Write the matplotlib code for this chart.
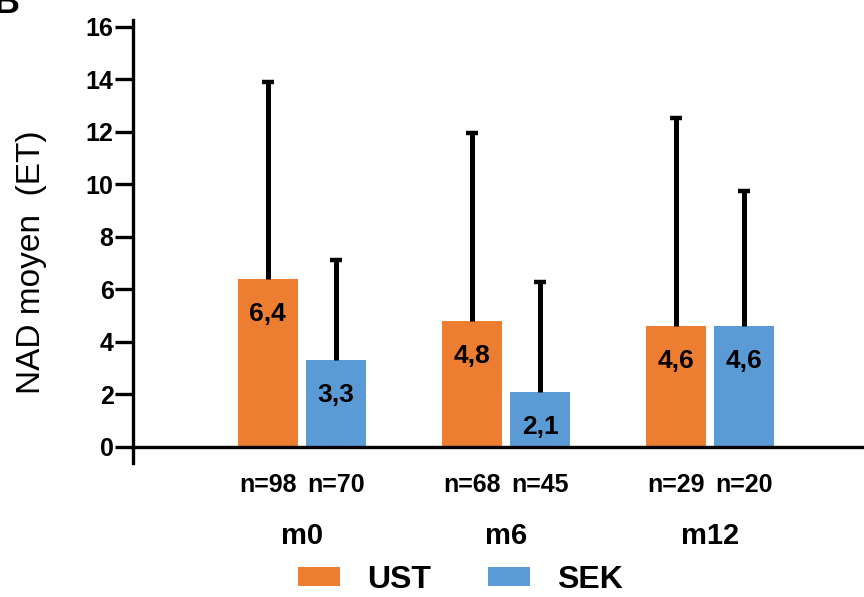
import matplotlib
matplotlib.use("Agg")
import matplotlib.pyplot as plt
import numpy as np
from matplotlib.patches import Patch

plt.rcParams['font.family'] = ['Liberation Sans', 'DejaVu Sans']

groups = ["m0", "m6", "m12"]
series = ["UST", "SEK"]
ust_mean = [6.4, 4.8, 4.6]
sek_mean = [3.3, 2.1, 4.6]
ust_err_top = [13.89, 11.98, 12.55]
sek_err_top = [7.14, 6.27, 9.75]
ust_n = ["n=98", "n=68", "n=29"]
sek_n = ["n=70", "n=45", "n=20"]
ust_labels = ["6,4", "4,8", "4,6"]
sek_labels = ["3,3", "2,1", "4,6"]
yticks = [0, 2, 4, 6, 8, 10, 12, 14, 16]

c_ust = "#ED7D31"
c_sek = "#5B9BD5"

fig = plt.figure(figsize=(8.64, 5.97), dpi=100)
ax = fig.add_axes([0.1539, 0.2249, 0.8461, 0.7409])

x = np.arange(len(groups))
w = 0.294
off = 0.167

ust_err = [t - m for t, m in zip(ust_err_top, ust_mean)]
sek_err = [t - m for t, m in zip(sek_err_top, sek_mean)]

ekw = dict(elinewidth=3.6, capsize=4, capthick=3.2, ecolor="black")
b1 = ax.bar(x - off, ust_mean, w, color=c_ust, yerr=[[0]*3, ust_err], error_kw=ekw, zorder=2)
b2 = ax.bar(x + off, sek_mean, w, color=c_sek, yerr=[[0]*3, sek_err], error_kw=ekw, zorder=2)

# remove the lower caps (sitting on the bar tops)
for cont, means in ((b1, ust_mean), (b2, sek_mean)):
    caps = cont.errorbar.lines[1]
    for cl in caps:
        if np.allclose(np.asarray(cl.get_ydata(), float), np.asarray(means, float)):
            cl.remove()

for bars, labs in ((b1, ust_labels), (b2, sek_labels)):
    for r, lab in zip(bars, labs):
        ax.annotate(lab, (r.get_x() + r.get_width()/2, r.get_height()),
                    xytext=(0, -25), textcoords="offset points",
                    ha="center", va="center", fontsize=19, fontweight="bold", zorder=3)

ax.set_xlim(-0.828, 2.755)
ax.set_ylim(-0.6, 16.25)
ax.set_yticks(yticks)
ax.set_yticklabels([str(t) for t in yticks], fontsize=18, fontweight="bold")
ax.tick_params(axis="y", length=13, width=2.4, pad=1)
ax.set_xticks([])

for s in ("top", "right", "bottom"):
    ax.spines[s].set_visible(False)
ax.spines["left"].set_linewidth(2.4)
ax.axhline(0, color="black", lw=2.4, zorder=4, clip_on=False)

ax.set_ylabel("NAD moyen  (ET)", fontsize=24)
ax.yaxis.set_label_coords(-0.118, 0.454)

for i in range(len(groups)):
    ax.text(x[i] - off, -1.45, ust_n[i], ha="center", va="center", fontsize=18, fontweight="bold", clip_on=False)
    ax.text(x[i] + off, -1.45, sek_n[i], ha="center", va="center", fontsize=18, fontweight="bold", clip_on=False)
    ax.text(x[i], -3.4, groups[i], ha="center", va="center", fontsize=21, fontweight="bold", clip_on=False)

handles = [Patch(facecolor=c_ust, edgecolor="none"), Patch(facecolor=c_sek, edgecolor="none")]
fig.legend(handles, series, loc="center", bbox_to_anchor=(0.533, 0.0285), ncol=2, frameon=False,
           prop=dict(size=23, weight="bold"), handlelength=1.3, handleheight=0.56,
           handletextpad=0.85, columnspacing=1.8, borderaxespad=0, borderpad=0)

# partially cropped panel letter at top-left
fig.text(20/864, 1 - 13/597, "B", ha="right", va="baseline", fontsize=26, fontweight="bold")

fig.savefig("out.png", dpi=100)
